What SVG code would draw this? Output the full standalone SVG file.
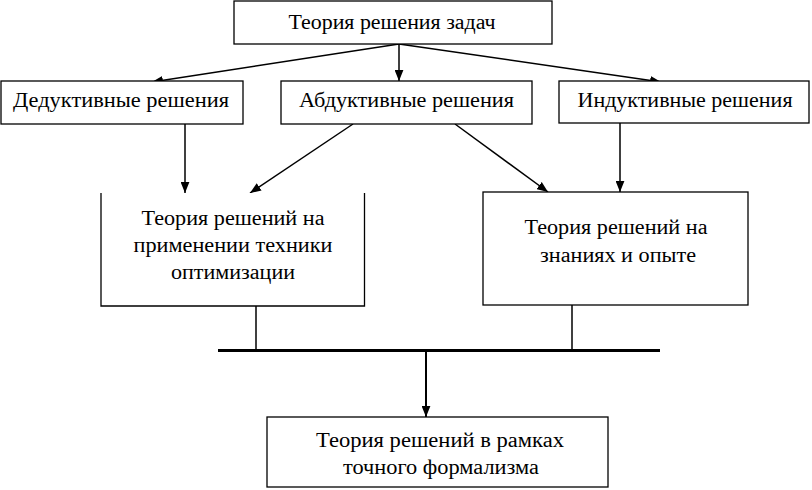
<svg xmlns="http://www.w3.org/2000/svg" width="812" height="490" viewBox="0 0 812 490">
<defs>
<style>
.box{fill:#fff;stroke:#000;stroke-width:1.3}
.t{font-family:"Liberation Serif","Times New Roman",serif;font-size:20.5px;fill:#000;text-anchor:middle}
.c{stroke:#000;stroke-width:1.5;fill:none}
</style>
<marker id="ah" viewBox="0 0 10 8" refX="10" refY="4" markerWidth="11" markerHeight="9" markerUnits="userSpaceOnUse" orient="auto">
<path d="M0,0 L10,4 L0,8 Z" fill="#000"/>
</marker>
</defs>
<rect width="812" height="490" fill="#fff"/>
<g id="connectors">
<line class="c" x1="399" y1="44" x2="152" y2="82" marker-end="url(#ah)"/>
<line class="c" x1="399" y1="44" x2="399" y2="81" marker-end="url(#ah)"/>
<line class="c" x1="399" y1="44" x2="661" y2="82" marker-end="url(#ah)"/>
<line class="c" x1="185" y1="124" x2="185" y2="193" marker-end="url(#ah)"/>
<line class="c" x1="353" y1="124" x2="250" y2="193" marker-end="url(#ah)"/>
<line class="c" x1="455" y1="124" x2="548" y2="192" marker-end="url(#ah)"/>
<line class="c" x1="620" y1="123" x2="620" y2="192" marker-end="url(#ah)"/>
<line class="c" x1="256" y1="306" x2="256" y2="350"/>
<line class="c" x1="572" y1="305" x2="572" y2="350"/>
<line stroke="#000" stroke-width="3" x1="218" y1="350.5" x2="660" y2="350.5"/>
<line stroke="#000" stroke-width="2" x1="426" y1="352" x2="426" y2="417" marker-end="url(#ah)"/>
</g>
<g id="n-top">
<rect class="box" x="234" y="1" width="318" height="43"/>
<text class="t" x="392" y="29" textLength="207" lengthAdjust="spacingAndGlyphs">Теория решения задач</text>
</g>
<g id="n-ded">
<rect class="box" x="1" y="81" width="242" height="43"/>
<text class="t" x="121" y="107" textLength="216" lengthAdjust="spacingAndGlyphs">Дедуктивные решения</text>
</g>
<g id="n-abd">
<rect class="box" x="281" y="81" width="251" height="43"/>
<text class="t" x="406.5" y="107" textLength="215" lengthAdjust="spacingAndGlyphs">Абдуктивные решения</text>
</g>
<g id="n-ind">
<rect class="box" x="559" y="81" width="250" height="42"/>
<text class="t" x="685" y="107" textLength="215" lengthAdjust="spacingAndGlyphs">Индуктивные решения</text>
</g>
<g id="n-opt">
<path class="box" d="M101,193 V306 H364.5 V193"/>
<text class="t" x="233" y="225" textLength="183" lengthAdjust="spacingAndGlyphs">Теория решений на</text>
<text class="t" x="233" y="252" textLength="199" lengthAdjust="spacingAndGlyphs">применении техники</text>
<text class="t" x="233" y="279" textLength="124" lengthAdjust="spacingAndGlyphs">оптимизации</text>
</g>
<g id="n-exp">
<rect class="box" x="483" y="192" width="265" height="113"/>
<text class="t" x="616" y="234" textLength="183" lengthAdjust="spacingAndGlyphs">Теория решений на</text>
<text class="t" x="618" y="262" textLength="156" lengthAdjust="spacingAndGlyphs">знаниях и опыте</text>
</g>
<g id="n-form">
<rect class="box" x="267" y="417" width="341" height="70"/>
<text class="t" x="440" y="447" textLength="248" lengthAdjust="spacingAndGlyphs">Теория решений в рамках</text>
<text class="t" x="441" y="474" textLength="196" lengthAdjust="spacingAndGlyphs">точного формализма</text>
</g>
</svg>
